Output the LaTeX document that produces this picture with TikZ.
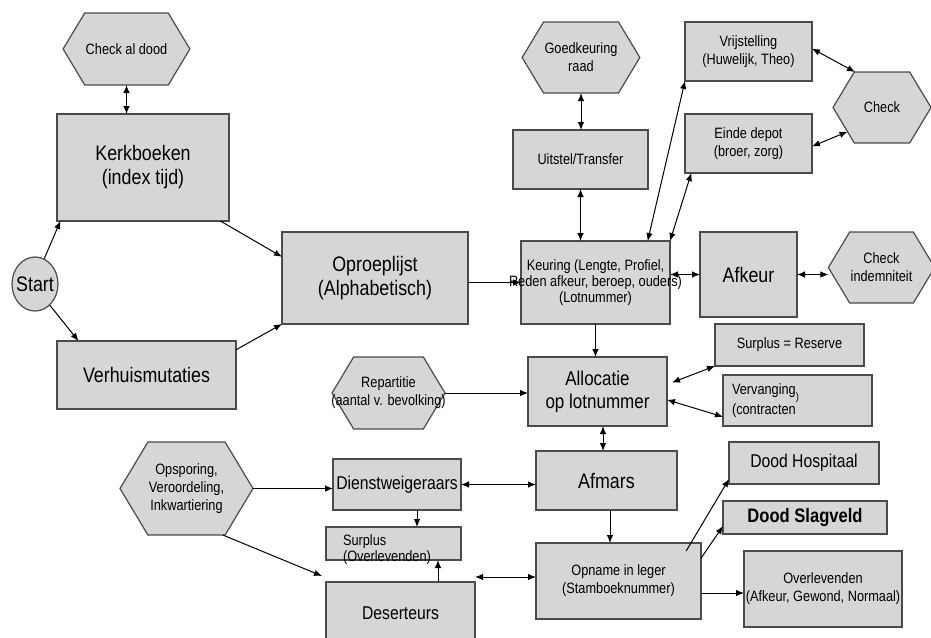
\documentclass[tikz,border=0pt]{standalone}
\usepackage{fontspec}
\setmainfont{Liberation Sans}
\newfontfamily\labfont{Liberation Sans}[FakeStretch=0.85]
\usetikzlibrary{shapes.symbols,shapes.geometric,arrows.meta,calc}

\definecolor{boxfill}{RGB}{214,214,214}
\definecolor{boxline}{RGB}{75,75,75}

\tikzset{
  box/.style={draw=boxline, fill=boxfill, line width=1.2pt, inner sep=2pt, outer sep=0pt,
    align=center, font={\labfont\fontsize{21}{24}\selectfont}},
  smallbox/.style={box, font={\labfont\fontsize{15}{18}\selectfont}},
  midbox/.style={box, font={\labfont\fontsize{18.5}{21}\selectfont}},
  hexa/.style={shape=signal, signal to=west and east, signal pointer angle=118,
    draw=boxline, fill=boxfill, line width=1.2pt, inner sep=1pt, outer sep=0pt,
    align=center, font={\labfont\fontsize{15}{18}\selectfont}},
  link/.style={line width=1pt, -{Latex[length=8pt,width=6.5pt]}},
  dlink/.style={line width=1pt, {Latex[length=8pt,width=6.5pt]}-{Latex[length=8pt,width=6.5pt]}},
}

\begin{document}
\begin{tikzpicture}[x=1pt,y=-1pt]
\useasboundingbox (0,0) rectangle (931,637);
\clip (0,0) rectangle (931,637);

% left column
  \node[hexa, minimum width=111, minimum height=72] (chkdood) at (126.5,49) {Check al dood};
  \node[box, minimum width=172, minimum height=107] (kerk) at (143,167.5) {Kerkboeken\\(index tijd)};
  \node[ellipse, draw=boxline, fill=boxfill, line width=1.2pt, inner sep=0pt, minimum width=46, minimum height=54,
    font={\labfont\fontsize{21}{24}\selectfont}] (start) at (35,284) {\makebox[0pt]{Start}};
  \node[box, minimum width=179, minimum height=68] (verh) at (146.5,375) {Verhuismutaties};
  \node[box, minimum width=186, minimum height=92] (oproep) at (375,278) {Oproeplijst\\(Alphabetisch)};

% keuring and checks
  \node[hexa, minimum width=106, minimum height=71] (goedk) at (581,57.5) {Goedkeuring\\raad};
  \node[smallbox, minimum width=135, minimum height=59] (uitstel) at (580.5,159.5) {Uitstel/Transfer};
  \node[smallbox, minimum width=149, minimum height=83, font={\labfont\fontsize{15}{16}\selectfont}] (keur) at (595.5,282.5)
    {Keuring (Lengte, Profiel,\\\makebox[0pt]{Reden afkeur, beroep, ouders)}\\(Lotnummer)};
  \node[smallbox, minimum width=127, minimum height=59] (vrij) at (748.5,51.5) {Vrijstelling\\(Huwelijk, Theo)};
  \node[smallbox, minimum width=127, minimum height=59] (einde) at (748.5,143.5) {Einde depot\\(broer, zorg)};
  \node[hexa, minimum width=98, minimum height=71] (chk) at (882,107.5) {Check};
  \node[box, minimum width=97, minimum height=85] (afkeur) at (748.5,274.5) {Afkeur};
  \node[hexa, minimum width=97, minimum height=71] (chkind) at (881.5,267.5) {Check\\indemniteit};

% allocatie
  \node[box, minimum width=139, minimum height=69, font={\labfont\fontsize{20}{23}\selectfont}] (alloc) at (597.5,391.5)
    {Allocatie\\op lotnummer};
  \node[smallbox, minimum width=149, minimum height=42] (surres) at (789.5,345) {Surplus = Reserve};
  \node[smallbox, minimum width=149, minimum height=51, text width=131, align=left, inner xsep=9] (verv) at (797.5,400.5)
    {Vervanging\rlap{\raisebox{-6pt}{\fontsize{11}{11}\selectfont)}}\\(contracten};
  \node[hexa, minimum width=113, minimum height=72] (repart) at (388.5,393)
    {Repartitie\\\makebox[0pt]{(aantal v. bevolking)}};

% afmars
  \node[box, minimum width=141, minimum height=59] (afmars) at (606.5,480.5) {Afmars};
  \node[midbox, minimum width=128, minimum height=51, inner xsep=0pt] (dienst) at (397,484.5) {Dienstweigeraars};
  \node[hexa, minimum width=125, minimum height=93] (opspor) at (186.5,488.5) {Opsporing,\\Veroordeling,\\Inkwartiering};
  \node[smallbox, minimum width=135, minimum height=33, text width=101, align=left, inner xsep=17, inner ysep=0pt,
    text height=10, text depth=6, font={\labfont\fontsize{15}{16}\selectfont}] (surov) at (393.5,543.5)
    {Surplus\\(Overlevenden)};
  \node[midbox, minimum width=149, minimum height=62] (desert) at (400.5,613) {Deserteurs};

% leger
  \node[smallbox, minimum width=165, minimum height=76] (opname) at (618.5,581) {Opname in leger\\(Stamboeknummer)};
  \node[midbox, minimum width=150, minimum height=42] (hosp) at (804,463) {Dood Hospitaal};
  \node[box, minimum width=164, minimum height=33, font={\labfont\bfseries\fontsize{19.5}{22}\selectfont}] (slag)
    at (805,517.5) {Dood Slagveld};
  \node[smallbox, minimum width=158, minimum height=76, inner xsep=0pt] (overl) at (823,589)
    {Overlevenden\\\makebox[0pt]{(Afkeur, Gewond, Normaal)}};

% arrows
  \draw[dlink] (chkdood.south) -- (chkdood.south |- kerk.north);
  \draw[link] (start.70) -- ($(kerk.south west)!0.02!(kerk.south east)$);
  \draw[link] (start.-55) -- ($(verh.north west)!0.12!(verh.north east)$);
  \draw[link] ($(kerk.south west)!0.95!(kerk.south east)$) -- ($(oproep.north west)!0.27!(oproep.south west)$);
  \draw[link] ($(verh.north east)!0.13!(verh.south east)$) -- (oproep.south west);
  \draw[link] (oproep.east |- keur.west) -- (keur.west);

  \draw[dlink] (goedk.south) -- (goedk.south |- uitstel.north);
  \draw[dlink] (uitstel.south) -- (uitstel.south |- keur.north);
  \draw[dlink] ($(keur.north west)!0.85!(keur.north east)$) -- (vrij.south west);
  \draw[dlink] (keur.north east) -- ($(einde.south west)!0.05!(einde.south east)$);
  \draw[dlink] ($(vrij.north east)!0.45!(vrij.south east)$) -- ($(chk.north)+(-27,0)$);
  \draw[dlink] ($(einde.north east)!0.55!(einde.south east)$) -- (chk.215);
  \draw[dlink] (afkeur.west -| keur.east) -- (afkeur.west);
  \draw[dlink] (afkeur.east) -- (afkeur.east -| chkind.west);

  \draw[link] (keur.south) -- (keur.south |- alloc.north);
  \draw[dlink] ($(alloc.north east)!0.37!(alloc.south east)+(5,0)$) -- (surres.south west);
  \draw[dlink] ($(alloc.north east)!0.62!(alloc.south east)$) -- ($(verv.north west)!0.82!(verv.south west)$);
  \draw[link] (repart.east) -- (repart.east -| alloc.west);
  \draw[dlink] ([xshift=5.5pt]alloc.south) -- ([xshift=5.5pt]alloc.south |- afmars.north);

  \draw[dlink] (dienst.east) -- (dienst.east -| afmars.west);
  \draw[link] (opspor.east) -- (opspor.east -| dienst.west);
  \draw[link] (opspor.-52) -- ($(desert.north west)+(-4,-6)$);
  \draw[link] ([xshift=20pt]dienst.south) -- ([xshift=20pt]dienst.south |- surov.north);
  \draw[link] ([xshift=37.5pt]desert.north) -- ([xshift=37.5pt]desert.north |- surov.south);
  \draw[dlink] ([yshift=4pt]opname.west -| desert.east) -- ([yshift=4pt]opname.west);

  \draw[link] ([xshift=3.5pt]afmars.south) -- ([xshift=3.5pt]afmars.south |- opname.north);
  \draw[link] ($(opname.north west)!0.91!(opname.north east)+(0,8)$) -- ($(hosp.north west)!0.88!(hosp.south west)$);
  \draw[link] ($(opname.north east)!0.2!(opname.south east)$) -- ($(slag.north west)!0.76!(slag.south west)$);
  \draw[link] ([yshift=-12pt]opname.east) -- ([yshift=-12pt]opname.east -| overl.west);
\end{tikzpicture}
\end{document}
